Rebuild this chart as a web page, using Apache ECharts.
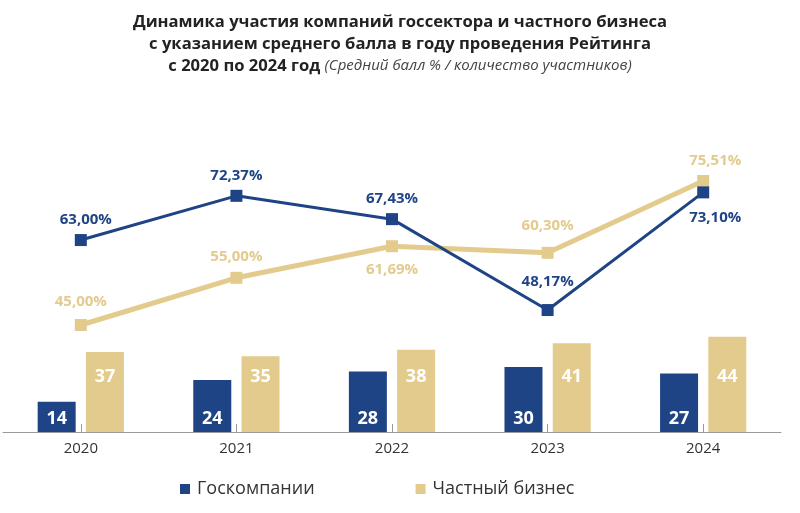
<!DOCTYPE html>
<html><head><meta charset="utf-8">
<script src="https://cdn.jsdelivr.net/npm/echarts@6/dist/echarts.min.js"></script>
<style>html,body{margin:0;padding:0;background:#fff}#c{width:800px;height:513px}</style>
</head><body><div id="c"></div>
<script>
const years = ['2020', '2021', '2022', '2023', '2024'];
const govScore = [63.00, 72.37, 67.43, 48.17, 73.10];
const privScore = [45.00, 55.00, 61.69, 60.30, 75.51];
const govCount = [14, 24, 28, 30, 27];
const privCount = [37, 35, 38, 41, 44];
const seriesNames = ['Госкомпании', 'Частный бизнес'];

const BLUE = '#1f4485', TAN = '#e3cb8d';
const FONT = '"Open Sans", "Noto Sans", sans-serif';
const fmt = p => p.value.toFixed(2).replace('.', ',') + '%';

// label placement per point (style only)
const govLabelPos = ['top', 'top', 'top', 'top', 'bottom'];
const govLabelOff = [[5, -2], [0, -2], [0, -2], [0, -10], [12, 7]];
const privLabelPos = ['top', 'top', 'bottom', 'top', 'top'];
const privLabelOff = [[0, -5], [0, -3], [0, 5], [0, -9], [12, -2]];

const chart = echarts.init(document.getElementById('c'), null, {renderer: 'canvas'});
chart.setOption({
  animation: false,
  textStyle: {fontFamily: FONT},
  title: {
    left: 'center', top: 6,
    text: '{b|Динамика участия компаний госсектора и частного бизнеса}\n{b|с указанием среднего балла в году проведения Рейтинга}\n{b|с 2020 по 2024 год }{i|(Средний балл % / количество участников)}',
    textStyle: {
      rich: {
        b: {fontFamily: FONT, fontWeight: 'bold', fontSize: 16.6, color: '#222', lineHeight: 22},
        i: {fontFamily: FONT, fontStyle: 'italic', fontWeight: 'normal', fontSize: 15, color: '#444', lineHeight: 22}
      }
    }
  },
  legend: {
    data: seriesNames,
    left: 175, top: 475,
    icon: 'rect', itemWidth: 10, itemHeight: 10, itemGap: 101,
    textStyle: {fontFamily: FONT, fontSize: 18, color: '#333', padding: [0, 0, 0, 2]}
  },
  grid: {left: 3, right: 19, top: 140, bottom: 81},
  xAxis: {
    type: 'category', data: years,
    axisLine: {lineStyle: {color: '#9a9a9a', width: 1}},
    axisTick: {show: true, alignWithLabel: true, inside: true, length: 8, lineStyle: {color: '#9a9a9a'}},
    axisLabel: {fontFamily: FONT, fontSize: 15, color: '#333', margin: 9}
  },
  yAxis: [
    {type: 'value', min: 0, max: 135, show: false},
    {type: 'value', min: 22.33, max: 84.2, show: false}
  ],
  series: [
    {
      name: seriesNames[0], type: 'bar', yAxisIndex: 0, data: govCount,
      barWidth: 38, barGap: '27%', itemStyle: {color: BLUE},
      label: {show: true, position: 'insideBottom', distance: 4, color: '#fff', fontFamily: FONT, fontWeight: 'bold', fontSize: 18}
    },
    {
      name: seriesNames[1], type: 'bar', yAxisIndex: 0, data: privCount,
      barWidth: 38, barGap: '27%', itemStyle: {color: TAN},
      label: {show: true, position: 'insideBottom', distance: 46, color: '#fff', fontFamily: FONT, fontWeight: 'bold', fontSize: 18}
    },
    {
      name: seriesNames[1], type: 'line', yAxisIndex: 1,
      data: privScore.map((v, i) => ({value: v, label: {position: privLabelPos[i], offset: privLabelOff[i]}})),
      symbol: 'rect', symbolSize: 12, lineStyle: {color: TAN, width: 5}, itemStyle: {color: TAN},
      label: {show: true, formatter: fmt, color: TAN, fontFamily: FONT, fontWeight: 'bold', fontSize: 15}
    },
    {
      name: seriesNames[0], type: 'line', yAxisIndex: 1,
      data: govScore.map((v, i) => ({value: v, label: {position: govLabelPos[i], offset: govLabelOff[i]}})),
      symbol: 'rect', symbolSize: 12, lineStyle: {color: BLUE, width: 3}, itemStyle: {color: BLUE},
      label: {show: true, formatter: fmt, color: BLUE, fontFamily: FONT, fontWeight: 'bold', fontSize: 15}
    }
  ]
});
</script></body></html>
